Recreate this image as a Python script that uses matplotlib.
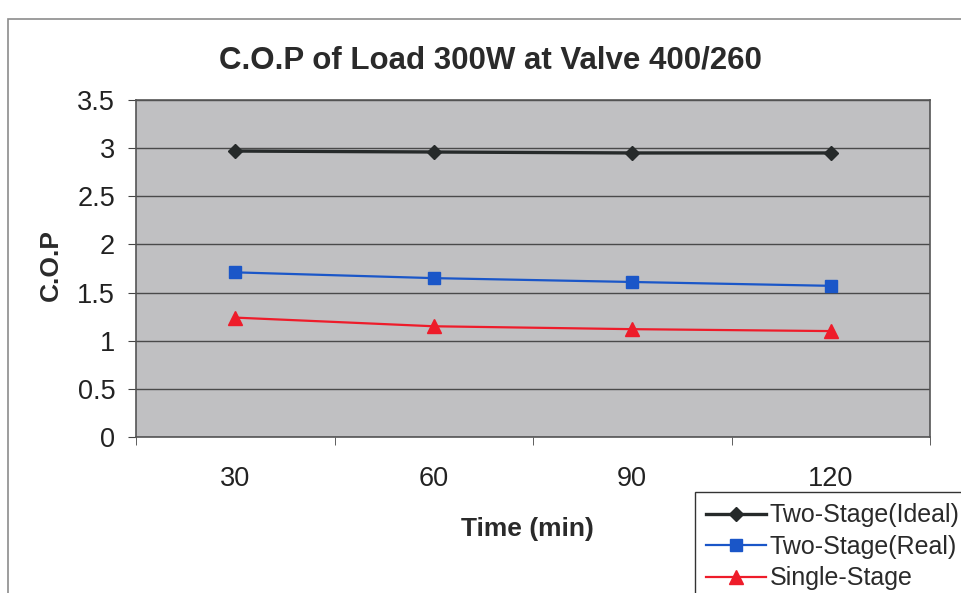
import numpy as np
import matplotlib.pyplot as plt
from matplotlib.patches import Rectangle

plt.rcParams['font.family'] = ['Liberation Sans', 'DejaVu Sans']

# values
times = ['30', '60', '90', '120']
cop_ideal = [2.97, 2.96, 2.95, 2.95]
cop_real = [1.71, 1.65, 1.61, 1.57]
cop_single = [1.24, 1.15, 1.12, 1.10]
yticks = [0, 0.5, 1, 1.5, 2, 2.5, 3, 3.5]

fig = plt.figure(figsize=(9.61, 5.93), dpi=100)
# chart area border (Excel style)
fig.patches.append(Rectangle((8/961, -0.1), 1.2, 1 - 19/593 + 0.1, transform=fig.transFigure,
                             fill=False, edgecolor='#8c8c8c', linewidth=1.2))

ax = fig.add_axes([136/961, 1 - 437/593, (930-136)/961, (437-100)/593])
ax.set_facecolor('#c0c0c2')
x = np.arange(len(times))

ax.plot(x, cop_ideal, color='#262a2a', lw=2.4, marker='D', ms=7.5, label='Two-Stage(Ideal)', zorder=3)
ax.plot(x, cop_real, color='#1a56c8', lw=1.6, marker='s', ms=8, label='Two-Stage(Real)', zorder=3)
ax.plot(x, cop_single, color='#ee1c2a', lw=1.6, marker='^', ms=9.5, label='Single-Stage', zorder=3)

ax.set_xlim(-0.5, 3.5)
ax.set_ylim(0, 3.5)
ax.set_yticks(yticks)
ax.set_yticklabels([f'{v:g}' for v in yticks])
ax.set_xticks(x)
ax.set_xticklabels(times)
ax.set_xticks(np.arange(-0.5, 3.6, 1), minor=True)
ax.tick_params(axis='x', which='major', length=0, pad=21, labelsize=19.5, colors='#222222')
ax.tick_params(axis='x', which='minor', length=6, direction='out', color='#444444')
ax.tick_params(axis='y', length=6, direction='out', pad=9, labelsize=19.5, color='#444444', labelcolor='#222222')
ax.yaxis.grid(True, color='#4a4a4a', lw=1)
ax.set_axisbelow(True)
for s in ax.spines.values():
    s.set_color('#555555')
    s.set_linewidth(1.2)

ax.set_title('C.O.P of Load 300W at Valve 400/260', fontsize=22.5, fontweight='bold', color='#2a2a2a',
             x=(490-136)/(930-136), pad=23)
ax.set_xlabel('Time (min)', fontsize=19, fontweight='bold', color='#2a2a2a')
ax.xaxis.set_label_coords((527-136)/(930-136), (437-517)/337)
ax.set_ylabel('C.O.P', fontsize=19, fontweight='bold', color='#2a2a2a')
ax.yaxis.set_label_coords((63-136)/(930-136), (437-265)/337)

leg = fig.legend(loc='upper left', bbox_to_anchor=(695/961, 1 - 492/593), fontsize=18,
                 frameon=True, fancybox=False, edgecolor='#333333', framealpha=1,
                 handlelength=2.4, handletextpad=0.15, labelspacing=0.3, borderpad=0.45,
                 borderaxespad=0, labelcolor='#2a2a2a')
leg.get_frame().set_linewidth(1.0)

fig.savefig('out.png', dpi=100)
